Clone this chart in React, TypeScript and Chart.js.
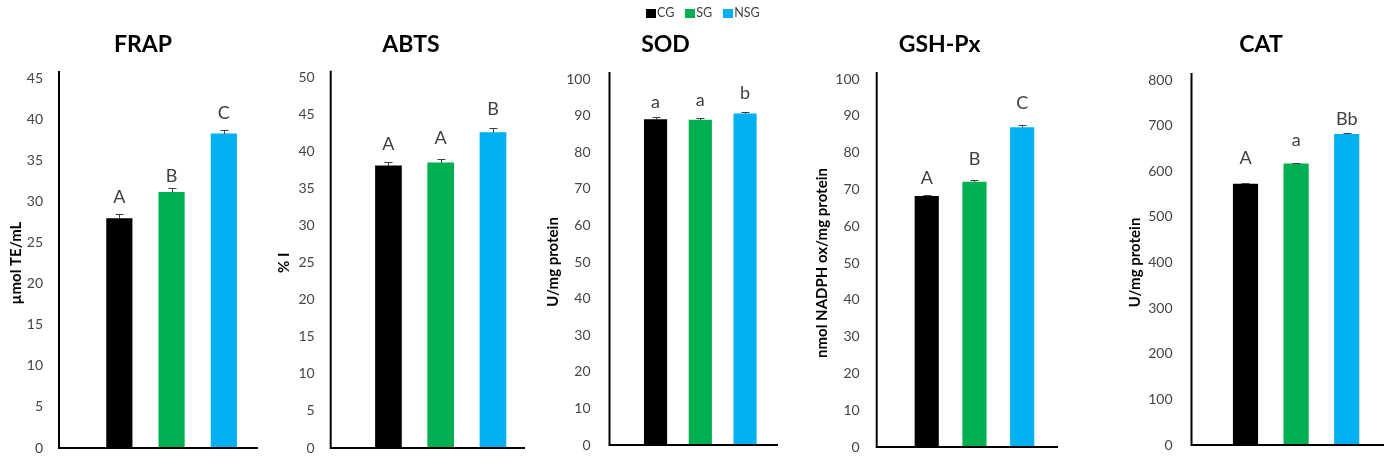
import React, { useEffect, useRef } from 'react';
import { Chart, registerables } from 'chart.js';

Chart.register(...registerables);

// ---------- data ----------
const groups = ['CG', 'SG', 'NSG'];
const groupColors = ['#000000', '#00B050', '#00B0F0'];

const panelTitles = ['FRAP', 'ABTS', 'SOD', 'GSH-Px', 'CAT'];
const yAxisTitles = ['µmol TE/mL', '% I', 'U/mg protein', 'nmol NADPH ox/mg protein', 'U/mg protein'];
const yMaxValues = [45, 50, 100, 100, 800];
const yStepValues = [5, 5, 10, 10, 100];

const frapValues = [27.9, 31.1, 38.2];
const frapErrors = [0.55, 0.55, 0.5];
const frapLetters = ['A', 'B', 'C'];
const frapLetterY = [29.8, 32.3, 40.0];

const abtsValues = [38.1, 38.5, 42.6];
const abtsErrors = [0.45, 0.5, 0.55];
const abtsLetters = ['A', 'A', 'B'];
const abtsLetterY = [40.3, 41.0, 45.0];

const sodValues = [88.9, 88.8, 90.5];
const sodErrors = [0.6, 0.6, 0.5];
const sodLetters = ['a', 'a', 'b'];
const sodLetterY = [92.1, 92.5, 94.5];

const gshValues = [68.1, 72.0, 86.8];
const gshErrors = [0.4, 0.6, 0.6];
const gshLetters = ['A', 'B', 'C'];
const gshLetterY = [71.6, 76.5, 91.9];

const catValues = [571.7, 616, 681];
const catErrors = [2, 2, 2];
const catLetters = ['A', 'a', 'Bb'];
const catLetterY = [615, 655, 701];

const panelData = [
  { values: frapValues, errors: frapErrors, letters: frapLetters, letterY: frapLetterY },
  { values: abtsValues, errors: abtsErrors, letters: abtsLetters, letterY: abtsLetterY },
  { values: sodValues, errors: sodErrors, letters: sodLetters, letterY: sodLetterY },
  { values: gshValues, errors: gshErrors, letters: gshLetters, letterY: gshLetterY },
  { values: catValues, errors: catErrors, letters: catLetters, letterY: catLetterY },
];

// ---------- layout (positions / sizes / styles) ----------
const H = 471;
const layouts = [
  { left: 0, axisX: 59, right: 258, top: 78, bottom: 463.3, xMin: -0.155, xMax: 3.654, bar: 25.5, yTitleX: 16.5, tickPad: 16, titleX: 143 },
  { left: 274, axisX: 330.7, right: 525, top: 77.7, bottom: 463.3, xMin: -0.105, xMax: 3.613, bar: 26, yTitleX: 284, tickPad: 16, titleX: 411 },
  { left: 542, axisX: 609.5, right: 778, top: 79, bottom: 464, xMin: -0.029, xMax: 3.736, bar: 22.5, yTitleX: 553.5, tickPad: 19, titleX: 665.5 },
  { left: 810, axisX: 876.7, right: 1058, top: 79, bottom: 464, xMin: -0.048, xMax: 3.75, bar: 23.5, yTitleX: 822.5, tickPad: 17, titleX: 939.7 },
  { left: 1124, axisX: 1191.5, right: 1384, top: 80, bottom: 465, xMin: -0.067, xMax: 3.737, bar: 24.5, yTitleX: 1135, tickPad: 19, titleX: 1261 },
];

const FONT = 'Lato, "Open Sans", sans-serif';
const YTITLE_SIZE = 15;

function makeAnnotationPlugin(d: { values: number[]; errors: number[]; letters: string[]; letterY: number[] }) {
  return {
    id: 'annotations',
    afterDatasetsDraw(chart: any) {
      const { ctx, chartArea, scales } = chart;
      const ys = scales.y;
      const meta = chart.getDatasetMeta(0);
      ctx.save();
      meta.data.forEach((bar: any, i: number) => {
        const x = Math.round(bar.x) + 0.5;
        const y0 = ys.getPixelForValue(d.values[i]);
        const y1 = Math.round(ys.getPixelForValue(d.values[i] + d.errors[i])) + 0.5;
        ctx.strokeStyle = '#404040';
        ctx.lineWidth = 1;
        ctx.beginPath();
        ctx.moveTo(x, y0);
        ctx.lineTo(x, y1);
        ctx.moveTo(x - 4, y1);
        ctx.lineTo(x + 4, y1);
        ctx.stroke();
        ctx.fillStyle = '#404040';
        ctx.font = `18px ${FONT}`;
        ctx.textAlign = 'center';
        ctx.textBaseline = 'alphabetic';
        ctx.fillText(d.letters[i], bar.x, ys.getPixelForValue(d.letterY[i]));
      });
      ctx.strokeStyle = '#000000';
      ctx.lineWidth = 2;
      ctx.beginPath();
      ctx.moveTo(chartArea.left, chartArea.top - 7);
      ctx.lineTo(chartArea.left, chartArea.bottom);
      ctx.lineTo(chartArea.right, chartArea.bottom);
      ctx.stroke();
      ctx.restore();
    },
  };
}

function Panel({ idx }: { idx: number }) {
  const ref = useRef<HTMLCanvasElement>(null);
  const L = layouts[idx];
  const width = Math.round(L.right - L.left);
  useEffect(() => {
    const d = panelData[idx];
    const chart = new Chart(ref.current as HTMLCanvasElement, {
      type: 'bar',
      data: {
        datasets: [
          {
            label: panelTitles[idx],
            data: d.values.map((v, i) => ({ x: i + 1, y: v })),
            backgroundColor: groupColors,
            borderWidth: 0,
            barThickness: L.bar,
          } as any,
        ],
      },
      options: {
        animation: false,
        responsive: false,
        maintainAspectRatio: false,
        layout: { padding: { left: 0, right: 0, top: L.top, bottom: H - L.bottom } },
        plugins: {
          legend: { display: false },
          tooltip: { enabled: false },
          title: { display: false },
        },
        scales: {
          x: { type: 'linear', display: false, offset: false, min: L.xMin, max: L.xMax, grid: { offset: false } },
          y: {
            min: 0,
            max: yMaxValues[idx],
            ticks: {
              stepSize: yStepValues[idx],
              color: '#454545',
              font: { family: FONT, size: 14, lineHeight: 1 },
              padding: L.tickPad,
            },
            grid: { display: false, drawTicks: false },
            border: { display: false },
            title: {
              display: true,
              text: yAxisTitles[idx],
              color: '#000000',
              font: { family: FONT, size: YTITLE_SIZE, weight: 'bold', lineHeight: 1.2 },
              padding: { top: L.yTitleX - L.left - (YTITLE_SIZE * 1.2) / 2, bottom: 0 },
            },
            afterFit: (s: any) => {
              s.width = L.axisX - L.left;
            },
          },
        },
      } as any,
      plugins: [makeAnnotationPlugin(d)],
    });
    return () => chart.destroy();
  }, [idx]);
  return (
    <canvas
      ref={ref}
      width={width}
      height={H}
      style={{ position: 'absolute', left: L.left, top: 0, width, height: H }}
    />
  );
}

export default function App() {
  return (
    <div
      style={{
        position: 'absolute',
        left: 0,
        top: 0,
        width: 1384,
        height: H,
        overflow: 'hidden',
        background: '#ffffff',
        fontFamily: FONT,
      }}
    >
      {layouts.map((_, i) => (
        <Panel key={i} idx={i} />
      ))}
      {layouts.map((L, i) => (
        <div
          key={'t' + i}
          style={{
            position: 'absolute',
            left: L.titleX,
            top: 42.5,
            transform: 'translate(-50%, -50%)',
            fontSize: 23,
            fontWeight: 'bold',
            color: '#000000',
            whiteSpace: 'nowrap',
            lineHeight: '28px',
          }}
        >
          {panelTitles[i]}
        </div>
      ))}
      <div
        style={{
          position: 'absolute',
          left: 646,
          top: 6,
          display: 'flex',
          flexDirection: 'row',
          alignItems: 'center',
          columnGap: 11,
          fontSize: 12.5,
          lineHeight: '14px',
          color: '#404040',
          whiteSpace: 'nowrap',
        }}
      >
        {groups.map((g, i) => (
          <div key={g} style={{ display: 'flex', alignItems: 'center' }}>
            <div style={{ width: 10, height: 9, background: groupColors[i], marginRight: 1 }} />
            <span>{g}</span>
          </div>
        ))}
      </div>
    </div>
  );
}
